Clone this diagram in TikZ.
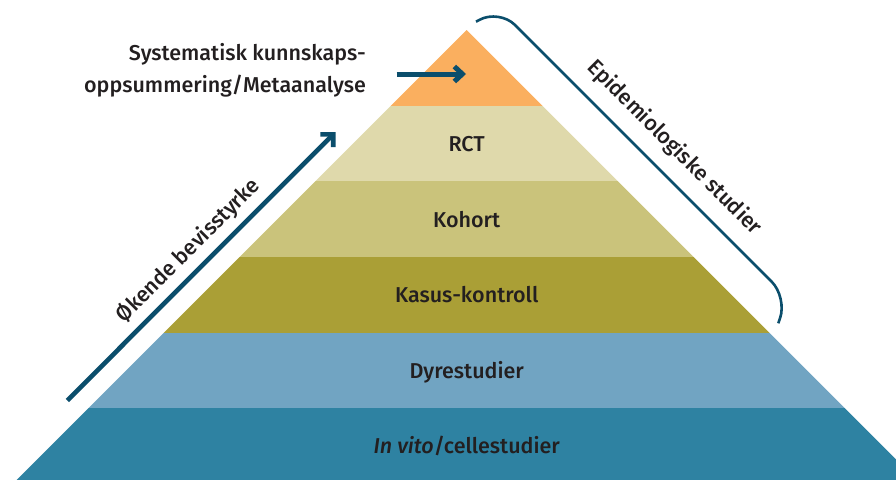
\documentclass[tikz,border=0pt]{standalone}
\usepackage{fontspec}
\setmainfont{Fira Sans}[UprightFont=* Medium, ItalicFont=* Medium Italic]
\usetikzlibrary{arrows.meta}
\definecolor{cOrange}{HTML}{FAAF5F}
\definecolor{cRCT}{HTML}{DFD9AB}
\definecolor{cKoh}{HTML}{CAC37B}
\definecolor{cKas}{HTML}{AA9F36}
\definecolor{cDyr}{HTML}{71A4C2}
\definecolor{cVit}{HTML}{2E82A2}
\definecolor{cDark}{HTML}{0B4E6C}
\definecolor{cText}{HTML}{231F20}
\begin{document}
\begin{tikzpicture}[x=1pt,y=-1pt,
  lbl/.style={font=\fontsize{21.5}{32}\selectfont, text=cText, inner sep=0pt},
  smallarrow/.style={draw=cDark, line width=5pt, -{Straight Barb[length=8pt,width=15pt,line width=5pt]}},
  bigarrow/.style={draw=cDark, line width=4.6pt, -{Straight Barb[length=9pt,width=18pt,line width=4.6pt]}},
  bracketline/.style={draw=cDark, line width=2.6pt, rounded corners=22pt}]
\useasboundingbox (0,0) rectangle (896,480);
\begin{scope}
  \clip (0,0) rectangle (896,480);
  \clip (466.7,30) -- (916.7,480) -- (16.7,480) -- cycle;
  \fill[cOrange] (0,0) rectangle (896,105.5);
  \fill[cRCT] (0,105.5) rectangle (896,181.2);
  \fill[cKoh] (0,181.2) rectangle (896,256.8);
  \fill[cKas] (0,256.8) rectangle (896,332.5);
  \fill[cDyr] (0,332.5) rectangle (896,408.2);
  \fill[cVit] (0,408.2) rectangle (896,480);
\end{scope}
\node[lbl, anchor=base] (rct) at (466.7,151.5) {RCT};
\node[lbl, anchor=base] (kohort) at (466.7,227) {Kohort};
\node[lbl, anchor=base] (kasus) at (466.7,302.5) {Kasus-kontroll};
\node[lbl, anchor=base] (dyr) at (466.7,378) {Dyrestudier};
\node[lbl, anchor=base] (vitro) at (466.7,453.5) {\itshape In vito\/\upshape/cellestudier};
\node[lbl, anchor=base east, align=right] (meta) at (366,92) {Systematisk kunnskaps-\\oppsummering/Metaanalyse};
\coordinate (sa1) at (396.7,74);
\coordinate (sa2) at (466,74);
\draw[smallarrow] (sa1) -- (sa2);
\coordinate (ba1) at (67.3,400.5);
\coordinate (ba2) at (335.5,132);
\draw[bigarrow] (ba1) -- (ba2);
\node[lbl, anchor=base, rotate=45] (oekende) at (193,255) {Økende bevisstyrke};
\coordinate (br1) at (476,21.7);
\coordinate (br2) at (499.3,9.3);
\coordinate (br3) at (787.2,297.2);
\coordinate (br4) at (778.3,323.3);
\draw[bracketline] (br1) -- (br2) -- (br3) -- (br4);
\node[lbl, anchor=base, rotate=-45] (epi) at (670,152) {Epidemiologiske studier};
\end{tikzpicture}
\end{document}
